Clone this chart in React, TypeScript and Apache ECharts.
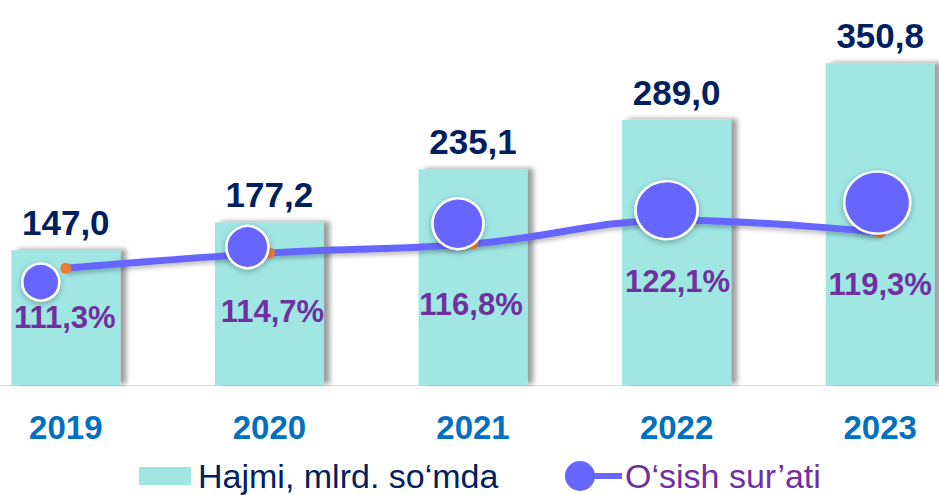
import React, { useEffect, useRef } from "react";
import * as echarts from "echarts";

const years = ["2019", "2020", "2021", "2022", "2023"];
const volume = [147.0, 177.2, 235.1, 289.0, 350.8];
const growth = [111.3, 114.7, 116.8, 122.1, 119.3];
const legendNames = ["Hajmi, mlrd. so‘mda", "O‘sish sur’ati"];

// styling (not data): bubble sizes / offsets and label offsets
const bubbleSizes = [[37, 37], [42, 42], [51, 51], [62, 58], [66, 62]];
const bubbleOffsets = [[-25, 14], [-22, -6], [-15, -20], [-10, -10], [-3, -30]];
const pctLabelOffsets = [[-1, 49], [3, 58], [-2, 61], [1, 61], [0, 52]];

const fmt = (v: number) => v.toFixed(1).replace(".", ",");

export default function App() {
  const ref = useRef<HTMLDivElement>(null);
  useEffect(() => {
    if (!ref.current) return;
    const chart = echarts.init(ref.current, null, { renderer: "svg" });
    const font = "Arial, 'Liberation Sans', sans-serif";
    chart.setOption({
      animation: false,
      backgroundColor: "#ffffff",
      grid: { left: -36, width: 1018, top: 18, height: 367, outerBoundsMode: "none", containLabel: false },
      xAxis: {
        type: "category",
        data: years,
        axisLine: { show: true, lineStyle: { color: "#d9d9d9", width: 1 } },
        axisTick: { show: false },
        axisLabel: { margin: 26, color: "#0070C0", fontSize: 33, fontWeight: "bold", fontFamily: font },
      },
      yAxis: [
        { type: "value", min: 0, max: 400, show: false, splitLine: { show: false } },
        { type: "value", min: 85, max: 167.6, show: false, splitLine: { show: false } },
      ],
      legend: [
        {
          left: 139,
          top: 458,
          padding: 0,
          itemWidth: 52,
          itemHeight: 18,
          icon: "rect",
          data: [{ name: legendNames[0], textStyle: { color: "#002060" } }],
          textStyle: { fontSize: 34, lineHeight: 36, fontFamily: font, padding: [0, 0, 0, 2] },
        },
        {
          left: 565,
          top: 458,
          padding: 0,
          itemWidth: 57,
          itemHeight: 30,
          data: [
            {
              name: legendNames[1],
              icon: "path://M15,0A15,15 0 1,1 15,30A15,15 0 1,1 15,0Z M26,12H57V18H26Z",
              textStyle: { color: "#7030A0" },
              itemStyle: { color: "#6666FF" },
            },
          ],
          textStyle: { fontSize: 34, lineHeight: 36, fontFamily: font, padding: [0, 0, 0, -2] },
        },
      ],
      series: [
        {
          name: legendNames[0],
          type: "bar",
          data: volume,
          barWidth: 109,
          itemStyle: {
            color: "#A0E7E4",
            shadowColor: "rgba(0,0,0,0.38)",
            shadowBlur: 5,
            shadowOffsetX: 6,
            shadowOffsetY: -1,
          },
          label: {
            show: true,
            position: "top",
            distance: 10,
            color: "#002060",
            fontSize: 35,
            fontWeight: "bold",
            fontFamily: font,
            formatter: (p: any) => fmt(p.value),
          },
          z: 2,
        },
        {
          name: legendNames[1],
          type: "line",
          yAxisIndex: 1,
          smooth: 0.4,
          symbol: "circle",
          symbolSize: 11,
          data: growth.map((v, i) => ({
            value: v,
            label: { offset: pctLabelOffsets[i] },
          })),
          lineStyle: {
            color: "#6666FF",
            width: 7,
            shadowColor: "rgba(0,0,0,0.25)",
            shadowBlur: 4,
            shadowOffsetY: 3,
          },
          itemStyle: { color: "#ED7D31", borderWidth: 0 },
          label: {
            show: true,
            position: "inside",
            color: "#7030A0",
            fontSize: 31,
            fontWeight: "bold",
            fontFamily: font,
            formatter: (p: any) => fmt(p.value) + "%",
          },
          z: 3,
        },
        {
          name: "bubbles",
          type: "scatter",
          yAxisIndex: 1,
          data: growth.map((v, i) => ({
            value: v,
            symbolSize: bubbleSizes[i],
            symbolOffset: bubbleOffsets[i],
          })),
          symbol: "circle",
          itemStyle: {
            color: "#6666FF",
            borderColor: "#ffffff",
            borderWidth: 2.5,
            opacity: 1,
            shadowColor: "rgba(0,0,0,0.3)",
            shadowBlur: 6,
            shadowOffsetY: 2,
          },
          silent: true,
          z: 4,
        },
      ],
    });
    return () => chart.dispose();
  }, []);
  return (
    <div
      ref={ref}
      style={{ position: "absolute", left: 0, top: 0, width: 939, height: 495 }}
    />
  );
}
